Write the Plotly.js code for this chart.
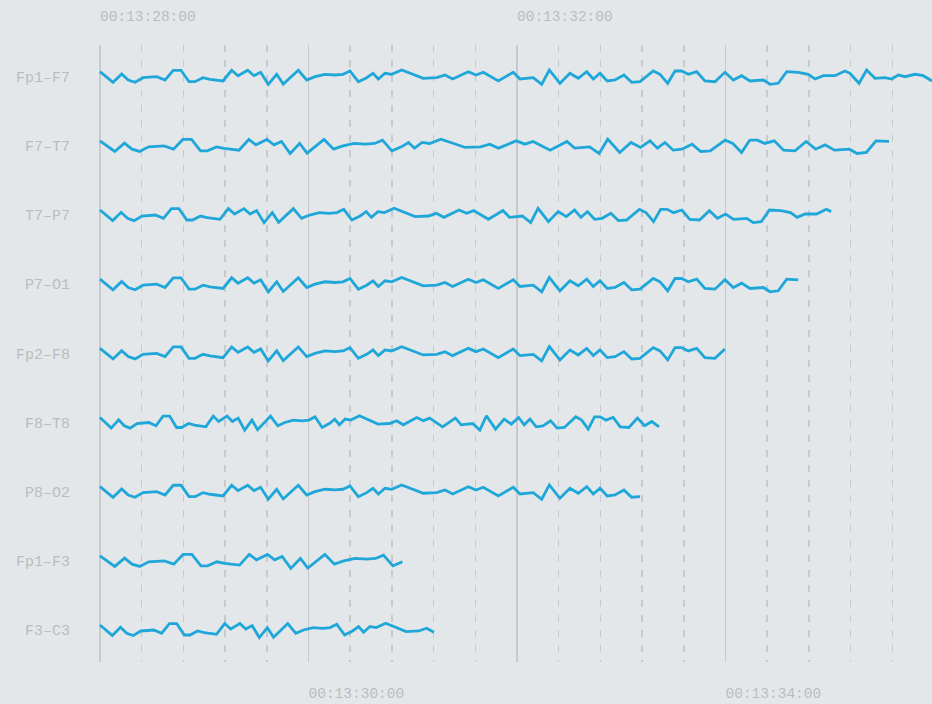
<!DOCTYPE html>
<html>
<head>
<meta charset="utf-8">
<script src="https://cdn.plot.ly/plotly-3.0.1.min.js"></script>
<style>html,body{margin:0;padding:0;background:#e4e7ea;}</style>
</head>
<body>
<div id="chart" style="width:932px;height:704px;"></div>
<script>
// Channel names (top to bottom)
const channels = ['Fp1–F7','F7–T7','T7–P7','P7–O1','Fp2–F8','F8–T8','P8–O2','Fp1–F3','F3–C3'];
// Time stretch of each channel relative to the reference waveform, and where each trace stops (s after 00:13:28)
const timeStretch = [1.0, 1.13, 0.975, 1.0, 1.0, 0.86, 1.0, 1.134, 0.947];
const endSec = [7.981, 7.594, 7.031, 6.686, 6.034, 5.343, 5.189, 2.926, 3.22];

// Reference waveform: time (s after 00:13:28) and amplitude
const baseT = [0,0.125,0.208,0.271,0.336,0.413,0.544,0.624,0.703,0.777,0.854,0.911,0.988,1.055,1.180,1.263,1.324,1.417,1.477,1.541,1.614,1.695,1.758,1.902,1.983,2.062,2.158,2.254,2.331,2.398,2.478,2.558,2.619,2.670,2.734,2.798,2.894,2.974,3.101,3.230,3.309,3.383,3.533,3.607,3.677,3.821,3.964,4.029,4.156,4.237,4.310,4.412,4.508,4.588,4.669,4.732,4.796,4.866,4.940,5.026,5.100,5.180,5.259,5.307,5.372,5.446,5.516,5.580,5.643,5.724,5.803,5.899,5.995,6.075,6.155,6.235,6.363,6.427,6.506,6.587,6.698,6.794,6.859,6.938,7.050,7.146,7.194,7.281,7.354,7.434,7.530,7.594,7.657,7.722,7.818,7.897,7.981];
const baseV = [5.0,-5.6,2.7,-3.3,-5.6,-1.0,0,-3.3,6.4,6.4,-5.0,-5.0,-1.0,-2.6,-4.3,6.4,1.0,6.4,1.0,4.4,-7.6,2.4,-7.3,6.4,-3.3,0,2.4,1.7,2.4,5.7,-5.0,-1.0,3.4,-2.3,3.4,2.4,6.7,3.4,-1.6,-1.0,1.7,-2.3,5.0,1.7,4.4,-4.3,4.4,-2.3,-1.0,-7.6,6.7,-6.6,3.4,-1.6,5.0,-2.3,3.4,-4.3,-3.3,1.7,-5.6,-5.0,1.7,5.7,2.4,-6.6,5.7,5.7,2.4,5.0,-4.3,-5.0,4.4,-3.3,1.0,-4.3,-3.3,-7.6,-6.6,5.0,4.4,2.4,-2.3,1.0,1.0,5.7,3.4,-6.6,6.7,-1.6,-1.0,-2.3,1.7,0,2.4,1.0,-4.3];

// Time axis labels
const startSec = 808; // 00:13:28
const majorVals = [808, 810, 812, 814];
const bottomTickText = ['', '00:13:30:00', '', '00:13:34:00'];
const topTickVals = [808, 812];
const topTickText = ['00:13:28:00', '00:13:32:00'];

const channelGap = 69.16;
const lineColor = '#1ea7d8';

const traces = channels.map((name, i) => {
  const xs = [], ys = [];
  baseT.forEach((t, k) => {
    const ts = t * timeStretch[i];
    if (ts <= endSec[i] + 0.02) {
      xs.push(startSec + ts);
      ys.push(baseV[k] - i * channelGap);
    }
  });
  return {
    x: xs, y: ys, type: 'scatter', mode: 'lines', name: name,
    xaxis: i === 0 ? 'x2' : 'x',
    line: {color: lineColor, width: 2.8},
    hoverinfo: 'skip'
  };
});

// dashed grid every 0.4 s between the 2 s lines
const minorVals = [];
for (let k = 1; k < 20; k++) if (k % 5) minorVals.push(startSec + k * 0.4);

const xRange = [startSec - 3 / 104.25, startSec + 7.981];
const gridCol = '#c7cacd';
const tickFont = {family: 'Liberation Mono, DejaVu Sans Mono, monospace', size: 14.5, color: '#babdc0'};
const layout = {
  width: 932, height: 704,
  paper_bgcolor: '#e4e7ea', plot_bgcolor: '#e4e7ea',
  margin: {l: 97, r: 0, t: 45, b: 42},
  showlegend: false,
  font: tickFont,
  xaxis: {
    range: xRange, tickmode: 'array', tickvals: majorVals, ticktext: bottomTickText,
    showgrid: true, gridcolor: gridCol, gridwidth: 1.5, zeroline: false, showline: false,
    ticks: '', ticklabelposition: 'outside right', ticklabelstandoff: 20, tickfont: tickFont,
    minor: {tickmode: 'array', tickvals: minorVals, showgrid: true, gridcolor: gridCol, gridwidth: 1.5, griddash: '7px,8px', ticks: ''},
    fixedrange: true
  },
  xaxis2: {
    range: xRange, overlaying: 'x', side: 'top', anchor: 'y',
    tickmode: 'array', tickvals: topTickVals, ticktext: topTickText,
    showgrid: false, zeroline: false, showline: false,
    ticks: '', ticklabelposition: 'outside right', ticklabelstandoff: 20, tickfont: tickFont,
    fixedrange: true
  },
  yaxis: {
    range: [-585.3, 31.7], tickmode: 'array',
    tickvals: channels.map((_, i) => -i * channelGap), ticktext: channels,
    showgrid: false, zeroline: false, showline: false,
    ticks: 'outside', ticklen: 23, tickcolor: 'rgba(0,0,0,0)',
    tickfont: {family: 'Liberation Mono, DejaVu Sans Mono, monospace', size: 15, color: '#babdc0'},
    fixedrange: true
  }
};

Plotly.newPlot('chart', traces, layout, {displayModeBar: false, staticPlot: true});
</script>
</body>
</html>
